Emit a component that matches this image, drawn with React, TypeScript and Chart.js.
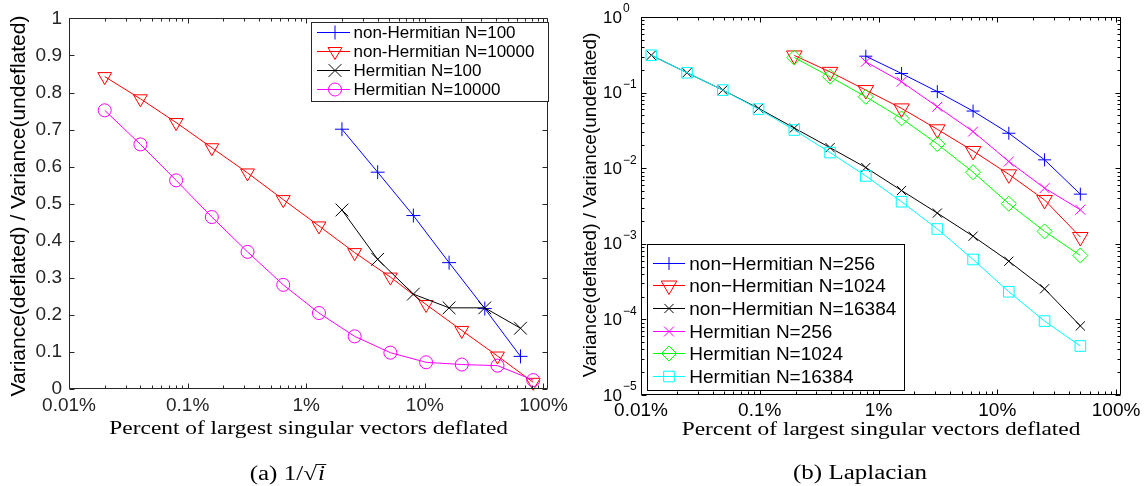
import React, { useEffect, useRef } from 'react';
import { Chart, registerables } from 'chart.js';
import { drawPoint } from 'chart.js/helpers';

Chart.register(...registerables);

// ---------------- data ----------------
const xTickValues = [0.01, 0.1, 1, 10, 100];
const xTickLabels = ['0.01%', '0.1%', '1%', '10%', '100%'];

// panel (a): 1/sqrt(i)
const pctA_N100 = [2, 4, 8, 16, 32, 64];
const pctA_N10000 = [0.02, 0.04, 0.08, 0.16, 0.32, 0.64, 1.28, 2.56, 5.12, 10.24, 20.48, 40.96, 81.92];
const a_nonHerm_N100 = [0.701, 0.585, 0.468, 0.341, 0.217, 0.088];
const a_nonHerm_N10000 = [0.843, 0.783, 0.719, 0.651, 0.583, 0.511, 0.44, 0.368, 0.302, 0.228, 0.158, 0.089, 0.018];
const a_herm_N100 = [0.483, 0.35, 0.256, 0.219, 0.219, 0.164];
const a_herm_N10000 = [0.752, 0.66, 0.563, 0.464, 0.37, 0.281, 0.205, 0.142, 0.098, 0.072, 0.066, 0.063, 0.024];
const yTickValuesA = [0, 0.1, 0.2, 0.3, 0.4, 0.5, 0.6, 0.7, 0.8, 0.9, 1];
const yTickLabelsA = ['0', '0.1', '0.2', '0.3', '0.4', '0.5', '0.6', '0.7', '0.8', '0.9', '1'];

// panel (b): Laplacian
const pctB_N256 = [0.78125, 1.5625, 3.125, 6.25, 12.5, 25, 50];
const pctB_N1024 = [0.1953125, 0.390625, 0.78125, 1.5625, 3.125, 6.25, 12.5, 25, 50];
const pctB_N16384 = [0.01220703125, 0.0244140625, 0.048828125, 0.09765625, 0.1953125, 0.390625, 0.78125, 1.5625, 3.125, 6.25, 12.5, 25, 50];
const b_nonHerm_N256 = [0.303, 0.179, 0.103, 0.057, 0.029, 0.0129, 0.00454];
const b_nonHerm_N1024 = [0.31, 0.188, 0.108, 0.0618, 0.0327, 0.0169, 0.0083, 0.0038, 0.00123];
const b_nonHerm_N16384 = [0.312, 0.183, 0.108, 0.062, 0.034, 0.0187, 0.0102, 0.00507, 0.00255, 0.00126, 0.000588, 0.000254, 0.000082];
const b_herm_N256 = [0.255, 0.139, 0.065, 0.0305, 0.01225, 0.00545, 0.00282];
const b_herm_N1024 = [0.291, 0.162, 0.088, 0.0456, 0.0209, 0.00886, 0.00339, 0.00146, 0.0007];
const b_herm_N16384 = [0.312, 0.183, 0.108, 0.0605, 0.032, 0.0161, 0.0079, 0.0036, 0.00157, 0.00062, 0.000232, 0.000095, 0.0000445];
const yTickValuesB = [0.00001, 0.0001, 0.001, 0.01, 0.1, 1];
const yTickExponentsB = ['\u22125', '\u22124', '\u22123', '\u22122', '\u22121', '0'];

const yTitleText = 'Variance(deflated) / Variance(undeflated)';
const xTitleText = 'Percent of largest singular vectors deflated';

type Series = { label: string; xs: number[]; ys: number[]; color: string; style: string; rot: number; r: number };

const seriesA: Series[] = [
  { label: 'non-Hermitian N=100', xs: pctA_N100, ys: a_nonHerm_N100, color: '#0000ff', style: 'cross', rot: 0, r: 7 },
  { label: 'non-Hermitian N=10000', xs: pctA_N10000, ys: a_nonHerm_N10000, color: '#ff0000', style: 'triangle', rot: 180, r: 8 },
  { label: 'Hermitian N=100', xs: pctA_N100, ys: a_herm_N100, color: '#000000', style: 'crossRot', rot: 0, r: 9 },
  { label: 'Hermitian N=10000', xs: pctA_N10000, ys: a_herm_N10000, color: '#ff00ff', style: 'circle', rot: 0, r: 6.5 },
];

const seriesB: Series[] = [
  { label: 'non\u2212Hermitian N=256', xs: pctB_N256, ys: b_nonHerm_N256, color: '#0000ff', style: 'cross', rot: 0, r: 6.5 },
  { label: 'non\u2212Hermitian N=1024', xs: pctB_N1024, ys: b_nonHerm_N1024, color: '#ff0000', style: 'triangle', rot: 180, r: 9 },
  { label: 'non\u2212Hermitian N=16384', xs: pctB_N16384, ys: b_nonHerm_N16384, color: '#000000', style: 'crossRot', rot: 0, r: 6.5 },
  { label: 'Hermitian N=256', xs: pctB_N256, ys: b_herm_N256, color: '#ff00ff', style: 'crossRot', rot: 0, r: 7 },
  { label: 'Hermitian N=1024', xs: pctB_N1024, ys: b_herm_N1024, color: '#00ff00', style: 'rectRot', rot: 0, r: 7.5 },
  { label: 'Hermitian N=16384', xs: pctB_N16384, ys: b_herm_N16384, color: '#00ffff', style: 'rect', rot: 0, r: 7.5 },
];

const SANS = '"Liberation Sans", Arial, sans-serif';
const SERIF = '"Liberation Serif", "Times New Roman", serif';

function buildDatasets(series: Series[]) {
  return series.map((s, i) => ({
    label: s.label,
    data: s.xs.map((x, j) => ({ x, y: s.ys[j] })),
    borderColor: s.color,
    backgroundColor: 'rgba(0,0,0,0)',
    borderWidth: 1,
    pointStyle: s.style,
    pointRotation: s.rot,
    pointRadius: s.r,
    pointHoverRadius: s.r,
    pointBorderWidth: 1,
    pointBorderColor: s.color,
    pointBackgroundColor: 'rgba(0,0,0,0)',
    tension: 0,
    clip: false,
    order: -i,
  }));
}

type Decor = {
  axisColor: string;
  yLog: boolean;
  yTitleSize: number;
  yTitleBaselineX: number;
  yTitleCenterY: number;
  xTitleCenterY: number;
  captionCenterX: number;
  captionCenterY: number;
  caption: 'a' | 'b';
  legend: { x0: number; x1: number; y0: number; y1: number; firstY: number; dy: number; lx0: number; lx1: number; mx: number; tx: number; font: number };
  series: Series[];
};

function stretchedText(ctx: CanvasRenderingContext2D, text: string, cx: number, cy: number, font: string, sx: number) {
  ctx.save();
  ctx.font = font;
  ctx.textAlign = 'center';
  ctx.textBaseline = 'middle';
  ctx.translate(cx, cy);
  ctx.scale(sx, 1);
  ctx.fillText(text, 0, 0);
  ctx.restore();
}

function makeDecorPlugin(d: Decor) {
  return {
    id: 'decor',
    afterDraw(chart: any) {
      const ctx: CanvasRenderingContext2D = chart.ctx;
      const { left, right, top, bottom } = chart.chartArea;
      const xs = chart.scales.x;
      const ys = chart.scales.y;
      const L = Math.round(left) + 0.5;
      const R = Math.round(right) - 0.5;
      const T = Math.round(top) + 0.5;
      const B = Math.round(bottom) - 0.5;
      ctx.save();
      ctx.strokeStyle = d.axisColor;
      ctx.lineWidth = 1;
      ctx.beginPath();
      ctx.rect(L, T, R - L, B - T);
      ctx.stroke();
      // x ticks (log)
      const tick = (px: number, len: number, horizontal: boolean) => {
        const p = Math.round(px) + 0.5;
        ctx.beginPath();
        if (horizontal) {
          ctx.moveTo(p, B); ctx.lineTo(p, B - len);
          ctx.moveTo(p, T); ctx.lineTo(p, T + len);
        } else {
          ctx.moveTo(L, p); ctx.lineTo(L + len, p);
          ctx.moveTo(R, p); ctx.lineTo(R - len, p);
        }
        ctx.stroke();
      };
      for (let e = -2; e <= 2; e++) {
        const dec = Math.pow(10, e);
        tick(xs.getPixelForValue(dec), 5, true);
        for (let m = 2; m <= 9; m++) {
          const v = m * dec;
          if (v <= xs.max) tick(xs.getPixelForValue(v), 3, true);
        }
      }
      if (d.yLog) {
        for (let e = -5; e <= 0; e++) {
          const dec = Math.pow(10, e);
          tick(ys.getPixelForValue(dec), 5, false);
          if (e < 0) for (let m = 2; m <= 9; m++) tick(ys.getPixelForValue(m * dec), 3, false);
        }
        // y tick labels 10^e
        ctx.fillStyle = '#000';
        yTickValuesB.forEach((v, i) => {
          const py = ys.getPixelForValue(v);
          ctx.font = `17px ${SANS}`;
          ctx.textAlign = 'left';
          ctx.textBaseline = 'middle';
          ctx.fillText('10', 30, py + 1);
          const w = ctx.measureText('10').width;
          ctx.font = `12px ${SANS}`;
          ctx.fillText(yTickExponentsB[i], 30 + w + 1, py - 8);
        });
      } else {
        yTickValuesA.forEach((v) => tick(ys.getPixelForValue(v), 5, false));
      }
      ctx.restore();

      // legend
      const lg = d.legend;
      ctx.save();
      ctx.fillStyle = '#ffffff';
      ctx.fillRect(lg.x0, lg.y0, lg.x1 - lg.x0, lg.y1 - lg.y0);
      ctx.strokeStyle = d.axisColor;
      ctx.lineWidth = 1;
      ctx.strokeRect(Math.round(lg.x0) + 0.5, Math.round(lg.y0) + 0.5, Math.round(lg.x1 - lg.x0), Math.round(lg.y1 - lg.y0));
      d.series.forEach((s, i) => {
        const y = Math.round(lg.firstY + i * lg.dy) + 0.5;
        ctx.strokeStyle = s.color;
        ctx.lineWidth = 1;
        ctx.beginPath();
        ctx.moveTo(lg.lx0, y);
        ctx.lineTo(lg.lx1, y);
        ctx.stroke();
        ctx.fillStyle = 'rgba(0,0,0,0)';
        drawPoint(ctx, { pointStyle: s.style, rotation: s.rot, radius: s.r, borderWidth: 1 } as any, lg.mx, y);
        ctx.fillStyle = '#000';
        ctx.font = `${lg.font}px ${SANS}`;
        ctx.textAlign = 'left';
        ctx.textBaseline = 'middle';
        ctx.fillText(s.label, lg.tx, y + 1);
      });
      ctx.restore();

      // titles
      ctx.save();
      ctx.fillStyle = '#000';
      ctx.font = `${d.yTitleSize}px ${SANS}`;
      ctx.textAlign = 'center';
      ctx.textBaseline = 'alphabetic';
      ctx.translate(d.yTitleBaselineX, d.yTitleCenterY);
      ctx.rotate(-Math.PI / 2);
      ctx.fillText(yTitleText, 0, 0);
      ctx.restore();

      ctx.save();
      ctx.fillStyle = '#000';
      stretchedText(ctx, xTitleText, (left + right) / 2, d.xTitleCenterY, `19px ${SERIF}`, 1.23);
      if (d.caption === 'b') {
        stretchedText(ctx, '(b) Laplacian', d.captionCenterX, d.captionCenterY, `20px ${SERIF}`, 1.25);
      } else {
        const sx = 1.25;
        ctx.font = `20px ${SERIF}`;
        const p1 = '(a) 1/\u221A';
        const w1 = ctx.measureText(p1).width;
        ctx.font = `italic 20px ${SERIF}`;
        const w2 = ctx.measureText('i').width + 2;
        ctx.translate(d.captionCenterX, d.captionCenterY);
        ctx.scale(sx, 1);
        const start = -(w1 + w2) / 2;
        ctx.textBaseline = 'alphabetic';
        ctx.textAlign = 'left';
        ctx.font = `20px ${SERIF}`;
        ctx.fillText(p1, start, 6);
        ctx.font = `italic 20px ${SERIF}`;
        ctx.fillText('i', start + w1 + 1, 6);
        ctx.strokeStyle = '#000';
        ctx.lineWidth = 0.9;
        ctx.beginPath();
        ctx.moveTo(start + w1 - 1, 6 - 15.5);
        ctx.lineTo(start + w1 + w2, 6 - 15.5);
        ctx.stroke();
      }
      ctx.restore();
    },
  };
}

function makeChart(canvas: HTMLCanvasElement, series: Series[], decor: Decor, geo: { padTop: number; padRight: number; yWidth: number; xHeight: number; tickColor: string; xPad: number }) {
  const yScale: any = decor.yLog
    ? {
        type: 'logarithmic', min: 0.00001, max: 1,
        grid: { display: false, drawTicks: false }, border: { display: false },
        ticks: { display: false },
        afterFit: (s: any) => { s.width = geo.yWidth; },
      }
    : {
        type: 'linear', min: 0, max: 1,
        grid: { display: false, drawTicks: false }, border: { display: false },
        afterBuildTicks: (s: any) => { s.ticks = yTickValuesA.map((v) => ({ value: v })); },
        ticks: {
          autoSkip: false, padding: 7, color: geo.tickColor, font: { family: SANS, size: 19 },
          callback: (v: any) => { const i = yTickValuesA.findIndex((t) => Math.abs(t - Number(v)) < 1e-9); return i >= 0 ? yTickLabelsA[i] : ''; },
        },
        afterFit: (s: any) => { s.width = geo.yWidth; },
      };
  return new Chart(canvas, {
    type: 'line',
    data: { datasets: buildDatasets(series) as any },
    options: {
      animation: false,
      responsive: false,
      maintainAspectRatio: false,
      devicePixelRatio: 1,
      layout: { padding: { left: 0, top: geo.padTop, right: geo.padRight, bottom: 0 } },
      plugins: { legend: { display: false }, tooltip: { enabled: false }, title: { display: false } },
      events: [],
      scales: {
        x: {
          type: 'logarithmic', min: 0.01, max: 110,
          grid: { display: false, drawTicks: false }, border: { display: false },
          afterBuildTicks: (s: any) => { s.ticks = xTickValues.map((v) => ({ value: v, major: true })); },
          ticks: {
            autoSkip: false, maxRotation: 0, padding: geo.xPad, color: geo.tickColor, font: { family: SANS, size: 19 },
            callback: (v: any) => { const i = xTickValues.findIndex((t) => Math.abs(Math.log10(t) - Math.log10(Number(v))) < 1e-6); return i >= 0 ? xTickLabels[i] : ''; },
          },
          afterFit: (s: any) => { s.height = geo.xHeight; },
        },
        y: yScale,
      },
    } as any,
    plugins: [makeDecorPlugin(decor) as any],
  });
}

export default function App() {
  const refA = useRef<HTMLCanvasElement>(null);
  const refB = useRef<HTMLCanvasElement>(null);
  useEffect(() => {
    const cA = makeChart(refA.current!, seriesA, {
      axisColor: '#262626', yLog: false, yTitleSize: 21, yTitleBaselineX: 25, yTitleCenterY: 206,
      xTitleCenterY: 429, captionCenterX: 288, captionCenterY: 474, caption: 'a',
      legend: { x0: 311, x1: 548, y0: 22, y1: 101, firstY: 32.3, dy: 19, lx0: 317, lx1: 350, mx: 335, tx: 353.5, font: 17 },
      series: seriesA,
    }, { padTop: 11, padRight: 21, yWidth: 69, xHeight: 97, tickColor: '#262626', xPad: 5 });
    const cB = makeChart(refB.current!, seriesB, {
      axisColor: '#000000', yLog: true, yTitleSize: 19, yTitleBaselineX: 23, yTitleCenterY: 205,
      xTitleCenterY: 430, captionCenterX: 287, captionCenterY: 474, caption: 'b',
      legend: { x0: 73.5, x1: 330, y0: 244, y1: 390, firstY: 262.7, dy: 22.66, lx0: 80, lx1: 112, mx: 96, tx: 116.3, font: 19 },
      series: seriesB,
    }, { padTop: 17, padRight: 25, yWidth: 68, xHeight: 91, tickColor: '#000000', xPad: 4.5 });
    return () => { cA.destroy(); cB.destroy(); };
  }, []);
  return (
    <div style={{ position: 'fixed', left: 0, top: 0, width: 1146, height: 486, background: '#ffffff' }}>
      <canvas ref={refA} width={573} height={486} style={{ position: 'absolute', left: 0, top: 0, width: 573, height: 486 }} />
      <canvas ref={refB} width={573} height={486} style={{ position: 'absolute', left: 573, top: 0, width: 573, height: 486 }} />
    </div>
  );
}
